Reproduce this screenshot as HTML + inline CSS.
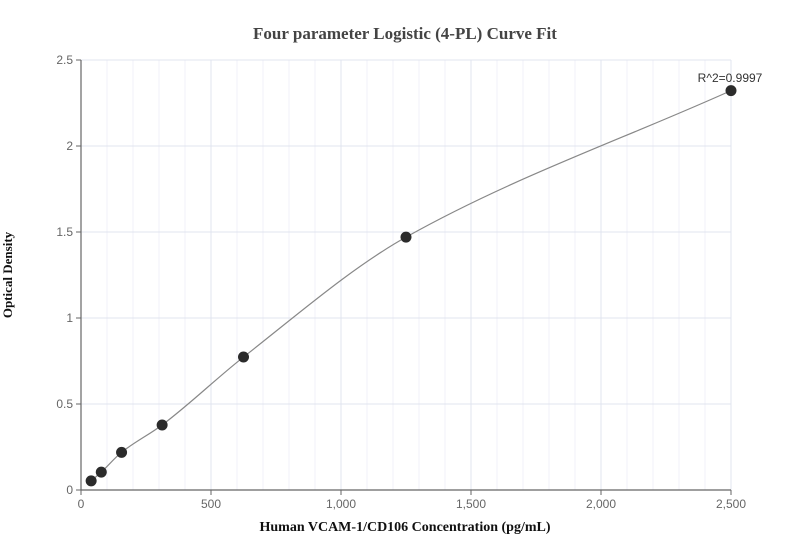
<!DOCTYPE html>
<html><head><meta charset="utf-8"><style>
body{margin:0;background:#fff;}
svg{display:block;font-family:"Liberation Sans",sans-serif;}
</style></head><body>
<svg id="chart" width="811" height="560">
<text x="405" y="39" text-anchor="middle" font-family="Liberation Serif" font-weight="bold" font-size="17" fill="#444">Four parameter Logistic (4-PL) Curve Fit</text>
<g id="grid"></g>
<g id="axes"></g>
<path id="curve" fill="none" stroke="#888" stroke-width="1.2"/>
<g id="points"></g>
<text x="730" y="82" text-anchor="middle" font-size="12" fill="#333">R^2=0.9997</text>
<text x="405" y="531" text-anchor="middle" font-family="Liberation Serif" font-weight="bold" font-size="14" fill="#111">Human VCAM-1/CD106 Concentration (pg/mL)</text>
<text transform="translate(12,275) rotate(-90)" text-anchor="middle" font-family="Liberation Serif" font-weight="bold" font-size="13" fill="#111">Optical Density</text>
</svg>
<script>
const xValues=[39,78,156,312,625,1250,2500];
const yValues=[0.053,0.104,0.219,0.378,0.773,1.47,2.322];
const xTicks=[0,500,1000,1500,2000,2500];
const xTickLabels=["0","500","1,000","1,500","2,000","2,500"];
const yTicks=[0,0.5,1,1.5,2,2.5];
const yTickLabels=["0","0.5","1","1.5","2","2.5"];
const X0=81,X1=731,Y0=490,Y1=60;
const sx=v=>X0+(v/2500)*(X1-X0);
const sy=v=>Y0-(v/2.5)*(Y0-Y1);
const NS="http://www.w3.org/2000/svg";
const grid=document.getElementById('grid'),axes=document.getElementById('axes'),pts=document.getElementById('points');
function mk(tag,attrs,parent){const e=document.createElementNS(NS,tag);for(const k in attrs)e.setAttribute(k,attrs[k]);parent.appendChild(e);return e;}
for(let v=100;v<=2500;v+=100){
 const l=mk('line',{x1:sx(v),x2:sx(v),y1:Y1,y2:Y0,stroke:v%500===0?'#e0e4ef':'#f1f2f8','stroke-width':1},grid);
 
 
}
yTicks.forEach((v,i)=>{
 if(v>0){const l=mk('line',{x1:X0,x2:X1,y1:sy(v),y2:sy(v),stroke:'#e0e4ef','stroke-width':1},grid);
 
 }
 const t=mk('line',{x1:X0-5,x2:X0,y1:sy(v),y2:sy(v),stroke:'#666'},axes);
 
 
 const tx=mk('text',{x:X0-8,y:sy(v)+4,'text-anchor':'end','font-size':12,fill:'#666'},axes);
 tx.textContent=yTickLabels[i];
 
 
});
xTicks.forEach((v,i)=>{
 const t=mk('line',{x1:sx(v),x2:sx(v),y1:Y0,y2:Y0+5,stroke:'#666'},axes);
 
 
 const tx=mk('text',{x:sx(v),y:Y0+18,'text-anchor':'middle','font-size':12,fill:'#666'},axes);
 tx.textContent=xTickLabels[i];
 
 
});
const ax=mk('path',{d:`M${X0},${Y1}V${Y0}H${X1}`,fill:'none',stroke:'#666','stroke-width':1.2},axes);


// monotone cubic curve through points
const px=xValues.map(sx),py=yValues.map(sy),n=px.length;
const d=[],m=[];
for(let i=0;i<n-1;i++)d.push((py[i+1]-py[i])/(px[i+1]-px[i]));
m[0]=d[0];m[n-1]=d[n-2];
for(let i=1;i<n-1;i++)m[i]=d[i-1]*d[i]<=0?0:2/(1/d[i-1]+1/d[i]);
let p=`M${px[0]},${py[0]}`;
for(let i=0;i<n-1;i++){const h=(px[i+1]-px[i])/3;
 p+=`C${px[i]+h},${py[i]+m[i]*h} ${px[i+1]-h},${py[i+1]-m[i+1]*h} ${px[i+1]},${py[i+1]}`;}
document.getElementById('curve').setAttribute('d',p);
xValues.forEach((v,i)=>{
 const c=mk('circle',{cx:sx(v),cy:sy(yValues[i]),r:5.5,fill:'#2b2b2b'},pts);
 
 
});
</script>
</body></html>
